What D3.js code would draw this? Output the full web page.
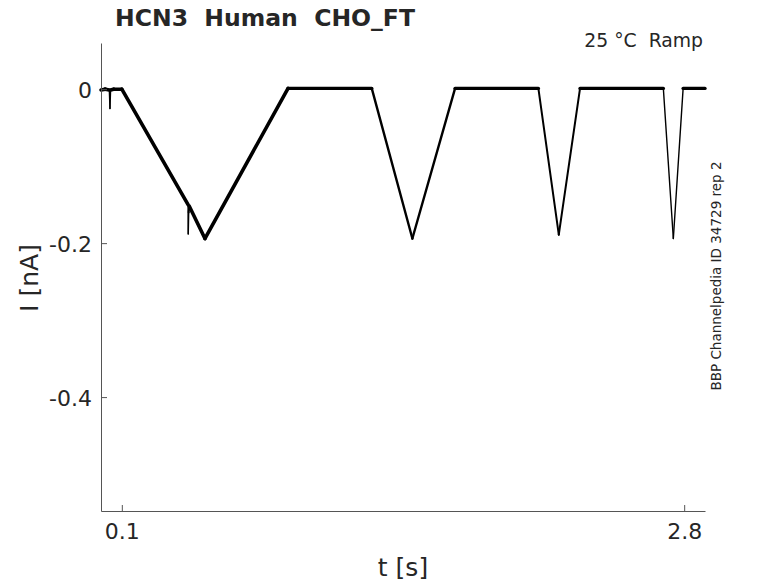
<!DOCTYPE html>
<html><head><meta charset="utf-8">
<script src="https://cdn.jsdelivr.net/npm/d3@7"></script>
<style>body{margin:0;background:#fff}svg{display:block}text{font-family:"DejaVu Sans",sans-serif;fill:#262626;white-space:pre}</style>
</head><body>
<svg id="c" width="778" height="583"></svg>
<script>
// Data (time in s, current in nA), breakpoints of the recorded ramp trace
const traceT = [0.000,0.020,0.040,0.043,0.046,0.060,0.100,0.418,0.419,0.421,0.424,0.499,0.898,1.300,1.495,1.700,2.100,2.198,2.300,2.700,2.748,2.795,2.900];
const traceI = [-0.001,0.000,-0.001,-0.025,-0.001,0.000,0.000,-0.150,-0.188,-0.160,-0.152,-0.194,0.001,0.001,-0.194,0.001,0.001,-0.189,0.001,0.001,-0.194,0.001,0.001];
const xTicks = [0.1, 2.8];
const xTickLabels = ["0.1", "2.8"];
const yTicks = [0, -0.2, -0.4];
const yTickLabels = ["0", "-0.2", "-0.4"];
const title = "HCN3  Human  CHO_FT";
const subtitle = "25 °C  Ramp";
const sideNote = "BBP Channelpedia ID 34729 rep 2";

const svg = d3.select("#c");
const L = 101, R = 705, T = 43, B = 511;
const x = d3.scaleLinear().domain([0, 2.9]).range([L, R]);
const y = d3.scaleLinear().domain([-0.548, 0.06]).range([B, T]);

// trace segments: slow segments drawn thicker (noise band)
const pts = traceT.map((t, i) => [t, traceI[i]]);
for (let i = 0; i < pts.length - 1; i++) {
  const a = pts[i], b = pts[i + 1];
  const slope = Math.abs((b[1] - a[1]) / (b[0] - a[0]));
  let w;
  if (slope < 0.05) w = 3.4;          // flat, noisy baseline
  else if (slope < 0.6) w = 3.6;      // slow ramp
  else if (slope < 1.2) w = 2.4;
  else if (slope < 3) w = 2.0;
  else w = 1.4;
  svg.append("path")
    .attr("d", d3.line().x(d => x(d[0])).y(d => y(d[1]))([a, b]))
    .attr("fill", "none").attr("stroke", "#000").attr("stroke-width", w)
    .attr("stroke-linejoin", "round").attr("stroke-linecap", "round");
}

// axes
const gx = svg.append("g").attr("transform", `translate(0,${B})`)
  .call(d3.axisBottom(x).tickValues(xTicks).tickFormat((d, i) => xTickLabels[i]).tickSizeInner(-6).tickSizeOuter(0).tickPadding(12));
const gy = svg.append("g").attr("transform", `translate(${L},0)`)
  .call(d3.axisLeft(y).tickValues(yTicks).tickFormat((d, i) => yTickLabels[i]).tickSizeInner(-6).tickSizeOuter(0).tickPadding(9));
[gx, gy].forEach(g => {
  g.select(".domain").attr("stroke", "#555");
  g.selectAll(".tick line").attr("stroke", "#555");
  g.selectAll(".tick text").attr("font-size", 22).attr("fill", "#262626").attr("font-family", "DejaVu Sans");
});
gy.selectAll(".tick text").attr("dy", "0.36em");

svg.append("text").attr("x", 265).attr("y", 26).attr("text-anchor", "middle")
  .attr("font-size", 23.5).attr("font-weight", "bold").attr("fill", "#000").text(title);
svg.append("text").attr("x", 703).attr("y", 47).attr("text-anchor", "end")
  .attr("font-size", 18.8).attr("fill", "#000").text(subtitle);
svg.append("text").attr("x", 403).attr("y", 576).attr("text-anchor", "middle")
  .attr("font-size", 25).text("t [s]");
svg.append("text").attr("transform", "translate(38,278) rotate(-90)").attr("text-anchor", "middle")
  .attr("font-size", 25).text("I [nA]");
svg.append("text").attr("transform", "translate(721,276) rotate(-90)").attr("text-anchor", "middle")
  .attr("font-size", 13.5).attr("fill", "#000").text(sideNote);
</script>
</body></html>
